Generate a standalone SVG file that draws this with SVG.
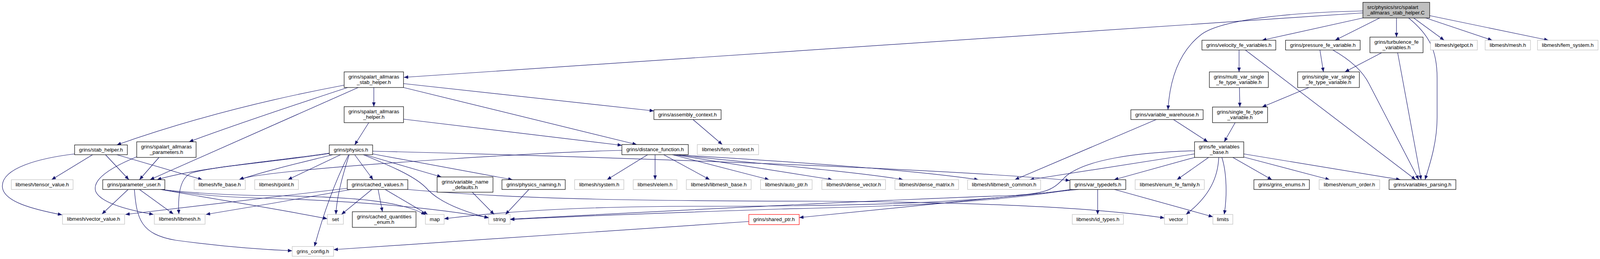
<svg xmlns="http://www.w3.org/2000/svg" width="4163" height="663" viewBox="0 0 4163 663">
<defs>
<marker id="a" markerUnits="userSpaceOnUse" markerWidth="11" markerHeight="9" refX="11" refY="4.5" orient="auto"><path d="M0,0 L11,4.5 L0,9 z" fill="#191970"/></marker>
<style>
:root{overflow:hidden}
html,body{margin:0;padding:0;overflow:hidden}
rect{fill:#fff;stroke:#000;stroke-width:1.2}
.g rect{stroke:#bfbfbf}
.r rect{stroke:#ff0000}
.root rect{fill:#bfbfbf}
text{font-family:"Liberation Sans",Arial,sans-serif;font-size:13.3px;text-anchor:middle;fill:#000}
.root text{text-anchor:start}
#edges path{fill:none;stroke:#191970;stroke-width:1.2;marker-end:url(#a)}
</style>
</defs>
<rect x="0" y="0" width="4163" height="663" style="fill:#fff;stroke:none"/>
<g id="edges">
<path d="M3489,33 L1034,198"/>
<path d="M3489,28 C3300,32 3130,50 3077,87 C3020,130 2995,200 2990,281"/>
<path d="M3489,46 L3231,103"/>
<path d="M3532,46 L3418,103"/>
<path d="M3575,46 L3575,95"/>
<path d="M3619,46 L3697,103"/>
<path d="M3650,46 L3820,103"/>
<path d="M3660,40 L3964,103"/>
<path d="M3606,46 C3660,90 3679,130 3679,200 L3679,300 C3679,360 3664,410 3648,460"/>
<path d="M3172,128 L3172,184"/>
<path d="M3188,128 L3624,460"/>
<path d="M3379,128 L3388,184"/>
<path d="M3412,128 C3460,155 3490,185 3505,215 L3632,460"/>
<path d="M3537,135 L3443,184"/>
<path d="M3578,135 L3638,460"/>
<path d="M3173,224 L3174,274"/>
<path d="M3351,224 L3231,274"/>
<path d="M3162,314 L3134,363"/>
<path d="M3004,306 L3092,363"/>
<path d="M2960,306 L2598,460"/>
<path d="M3058,403 L2852,460"/>
<path d="M3094,403 L3013,460"/>
<path d="M3120,403 C3118,450 3100,500 3036,549"/>
<path d="M3128,403 C3140,440 3142,500 3134,549"/>
<path d="M3156,403 L3256,460"/>
<path d="M3184,402 L3404,460"/>
<path d="M3184,394 L3585,460"/>
<path d="M3058,394 L2636,460"/>
<path d="M3058,386 C2900,390 2780,410 2730,450 C2700,480 2690,495 2600,500 C2300,510 1800,535 1306,561"/>
<path d="M2810,485 L2810,549"/>
<path d="M2853,485 L3105,555"/>
<path d="M2761,485 L2046,557"/>
<path d="M2741,485 C2500,520 2200,528 1800,528 C1500,528 1300,540 1137,560"/>
<path d="M2745,485 C2500,525 2200,530 2000,535 C1700,545 1500,552 1306,562"/>
<path d="M1917,567 L854,639"/>
<path d="M1658,396 L1554,460"/>
<path d="M1677,396 L1677,460"/>
<path d="M1699,396 L1817,460"/>
<path d="M1721,396 L1969,460"/>
<path d="M1725,396 L2131,460"/>
<path d="M1728,396 C1900,415 2200,440 2312,460"/>
<path d="M1730,396 C1950,410 2300,430 2505,460"/>
<path d="M1592,385 C1400,389 900,420 700,444 C660,449 630,453 612,460"/>
<path d="M954,387 C1500,400 2400,430 2739,462"/>
<path d="M954,394 L1312,460"/>
<path d="M934,396 L1130,453"/>
<path d="M930,396 C1000,425 1060,450 1090,480 C1120,515 1180,540 1251,558"/>
<path d="M908,396 L955,460"/>
<path d="M894,396 C880,440 862,500 860,549"/>
<path d="M892,397 C860,460 830,540 805,631"/>
<path d="M872,396 L737,460"/>
<path d="M852,396 C780,414 680,437 613,460"/>
<path d="M843,392 C700,413 500,430 402,460"/>
<path d="M843,393 C700,415 550,425 490,443 C460,455 455,500 458,548"/>
<path d="M944,314 L908,371"/>
<path d="M1033,305 L1592,372"/>
<path d="M957,224 L957,273"/>
<path d="M1033,214 L1674,284"/>
<path d="M1033,224 L1630,370"/>
<path d="M881,218 C700,252 500,300 299,371"/>
<path d="M890,224 C750,270 600,320 484,363"/>
<path d="M917,224 L384,460"/>
<path d="M237,396 L132,460"/>
<path d="M270,396 L330,460"/>
<path d="M299,396 L518,460"/>
<path d="M191,394 C100,405 5,430 6,477 C7,515 80,535 159,550"/>
<path d="M407,403 L357,460"/>
<path d="M351,401 C280,430 235,460 245,490 C258,520 330,538 393,549"/>
<path d="M328,485 L261,548"/>
<path d="M357,485 L444,548"/>
<path d="M344,485 C350,560 360,600 450,615 C560,630 650,638 748,642"/>
<path d="M411,485 C500,495 600,500 700,501 C900,503 1030,515 1089,550"/>
<path d="M415,485 C500,500 600,506 700,508 C900,515 1100,530 1251,557"/>
<path d="M411,485 C550,510 700,533 838,560"/>
<path d="M889,482 C800,492 700,505 321,549"/>
<path d="M899,485 L700,520 L527,549"/>
<path d="M952,485 L874,549"/>
<path d="M968,485 L979,542"/>
<path d="M986,485 L1095,549"/>
<path d="M1044,485 C1300,508 1600,515 2100,515 C2500,518 2800,530 2981,558"/>
<path d="M1209,492 L1265,549"/>
<path d="M1354,485 L1294,549"/>
<path d="M1774,306 L1849,370"/>
</g>
<g id="n-root" class="root"><rect x="3489" y="6" width="171" height="40"/><text x="3500" y="23">src/physics/src/spalart</text><text x="3500" y="37">_allmaras_stab_helper.C</text></g>
<g id="n-sa-stab-helper"><rect x="881" y="184" width="152" height="40"/><text x="957" y="201">grins/spalart_allmaras</text><text x="957" y="215">_stab_helper.h</text></g>
<g id="n-velocity"><rect x="3077" y="103" width="189" height="25"/><text x="3171.5" y="120">grins/velocity_fe_variables.h</text></g>
<g id="n-pressure"><rect x="3291" y="103" width="191" height="25"/><text x="3386.5" y="120">grins/pressure_fe_variable.h</text></g>
<g id="n-turbulence"><rect x="3507" y="95" width="136" height="40"/><text x="3575" y="112">grins/turbulence_fe</text><text x="3575" y="126">_variables.h</text></g>
<g id="n-getpot" class="g"><rect x="3662" y="103" width="120" height="25"/><text x="3722" y="120">libmesh/getpot.h</text></g>
<g id="n-mesh" class="g"><rect x="3802" y="103" width="116" height="25"/><text x="3860" y="120">libmesh/mesh.h</text></g>
<g id="n-fem-system" class="g"><rect x="3936" y="103" width="155" height="25"/><text x="4013.5" y="120">libmesh/fem_system.h</text></g>
<g id="n-multi-var"><rect x="3096" y="184" width="151" height="40"/><text x="3171.5" y="201">grins/multi_var_single</text><text x="3171.5" y="215">_fe_type_variable.h</text></g>
<g id="n-single-var"><rect x="3322" y="184" width="158" height="40"/><text x="3401" y="201">grins/single_var_single</text><text x="3401" y="215">_fe_type_variable.h</text></g>
<g id="n-single-fe-type"><rect x="3104" y="274" width="141" height="40"/><text x="3174.5" y="291">grins/single_fe_type</text><text x="3174.5" y="305">_variable.h</text></g>
<g id="n-variable-warehouse"><rect x="2895" y="281" width="185" height="25"/><text x="2987.5" y="298">grins/variable_warehouse.h</text></g>
<g id="n-assembly-context"><rect x="1674" y="281" width="172" height="25"/><text x="1760" y="298">grins/assembly_context.h</text></g>
<g id="n-sa-helper"><rect x="881" y="273" width="152" height="41"/><text x="957" y="290">grins/spalart_allmaras</text><text x="957" y="304">_helper.h</text></g>
<g id="n-fe-variables-base"><rect x="3058" y="363" width="126" height="40"/><text x="3121" y="380">grins/fe_variables</text><text x="3121" y="394">_base.h</text></g>
<g id="n-stab-helper"><rect x="191" y="371" width="135" height="25"/><text x="258.5" y="388">grins/stab_helper.h</text></g>
<g id="n-sa-parameters"><rect x="350" y="363" width="152" height="40"/><text x="426" y="380">grins/spalart_allmaras</text><text x="426" y="394">_parameters.h</text></g>
<g id="n-physics"><rect x="843" y="371" width="111" height="25"/><text x="898.5" y="388">grins/physics.h</text></g>
<g id="n-distance-function"><rect x="1592" y="370" width="170" height="26"/><text x="1677" y="387">grins/distance_function.h</text></g>
<g id="n-fem-context" class="g"><rect x="1785" y="370" width="157" height="26"/><text x="1863.5" y="387">libmesh/fem_context.h</text></g>
<g id="n-tensor-value" class="g"><rect x="29" y="460" width="158" height="25"/><text x="108" y="477">libmesh/tensor_value.h</text></g>
<g id="n-parameter-user"><rect x="263" y="460" width="159" height="25"/><text x="342.5" y="477">grins/parameter_user.h</text></g>
<g id="n-fe-base" class="g"><rect x="497" y="460" width="131" height="25"/><text x="562.5" y="477">libmesh/fe_base.h</text></g>
<g id="n-point" class="g"><rect x="652" y="460" width="112" height="25"/><text x="708" y="477">libmesh/point.h</text></g>
<g id="n-cached-values"><rect x="889" y="460" width="155" height="25"/><text x="966.5" y="477">grins/cached_values.h</text></g>
<g id="n-variable-name-defaults"><rect x="1119" y="453" width="143" height="39"/><text x="1190.5" y="470">grins/variable_name</text><text x="1190.5" y="484">_defaults.h</text></g>
<g id="n-physics-naming"><rect x="1285" y="460" width="162" height="25"/><text x="1366" y="477">grins/physics_naming.h</text></g>
<g id="n-system" class="g"><rect x="1471" y="460" width="126" height="25"/><text x="1534" y="477">libmesh/system.h</text></g>
<g id="n-elem" class="g"><rect x="1621" y="460" width="112" height="25"/><text x="1677" y="477">libmesh/elem.h</text></g>
<g id="n-libmesh-base" class="g"><rect x="1757" y="460" width="166" height="25"/><text x="1840" y="477">libmesh/libmesh_base.h</text></g>
<g id="n-auto-ptr" class="g"><rect x="1947" y="460" width="132" height="25"/><text x="2013" y="477">libmesh/auto_ptr.h</text></g>
<g id="n-dense-vector" class="g"><rect x="2104" y="460" width="163" height="25"/><text x="2185.5" y="477">libmesh/dense_vector.h</text></g>
<g id="n-dense-matrix" class="g"><rect x="2291" y="460" width="163" height="25"/><text x="2372.5" y="477">libmesh/dense_matrix.h</text></g>
<g id="n-libmesh-common" class="g"><rect x="2477" y="460" width="187" height="25"/><text x="2570.5" y="477">libmesh/libmesh_common.h</text></g>
<g id="n-var-typedefs"><rect x="2739" y="460" width="143" height="25"/><text x="2810.5" y="477">grins/var_typedefs.h</text></g>
<g id="n-enum-fe-family" class="g"><rect x="2906" y="460" width="177" height="25"/><text x="2994.5" y="477">libmesh/enum_fe_family.h</text></g>
<g id="n-grins-enums"><rect x="3210" y="460" width="142" height="25"/><text x="3281" y="477">grins/grins_enums.h</text></g>
<g id="n-enum-order" class="g"><rect x="3377" y="460" width="155" height="25"/><text x="3454.5" y="477">libmesh/enum_order.h</text></g>
<g id="n-variables-parsing"><rect x="3556" y="460" width="171" height="25"/><text x="3641.5" y="477">grins/variables_parsing.h</text></g>
<g id="n-vector-value" class="g"><rect x="160" y="548" width="159" height="26"/><text x="239.5" y="565">libmesh/vector_value.h</text></g>
<g id="n-libmesh" class="g"><rect x="395" y="548" width="130" height="26"/><text x="460" y="565">libmesh/libmesh.h</text></g>
<g id="n-set" class="g"><rect x="838" y="549" width="41" height="25"/><text x="858.5" y="566">set</text></g>
<g id="n-cached-quantities-enum"><rect x="902" y="542" width="163" height="40"/><text x="983.5" y="559">grins/cached_quantities</text><text x="983.5" y="573">_enum.h</text></g>
<g id="n-map" class="g"><rect x="1089" y="549" width="48" height="25"/><text x="1113" y="566">map</text></g>
<g id="n-string" class="g"><rect x="1251" y="549" width="55" height="25"/><text x="1278.5" y="566">string</text></g>
<g id="n-shared-ptr" class="r"><rect x="1917" y="549" width="129" height="26"/><text x="1981.5" y="566">grins/shared_ptr.h</text></g>
<g id="n-id-types" class="g"><rect x="2745" y="549" width="131" height="25"/><text x="2810.5" y="566">libmesh/id_types.h</text></g>
<g id="n-vector" class="g"><rect x="2981" y="549" width="59" height="25"/><text x="3010.5" y="566">vector</text></g>
<g id="n-limits" class="g"><rect x="3105" y="549" width="51" height="25"/><text x="3130.5" y="566">limits</text></g>
<g id="n-grins-config" class="g"><rect x="748" y="631" width="106" height="25"/><text x="801" y="648">grins_config.h</text></g>
</svg>
